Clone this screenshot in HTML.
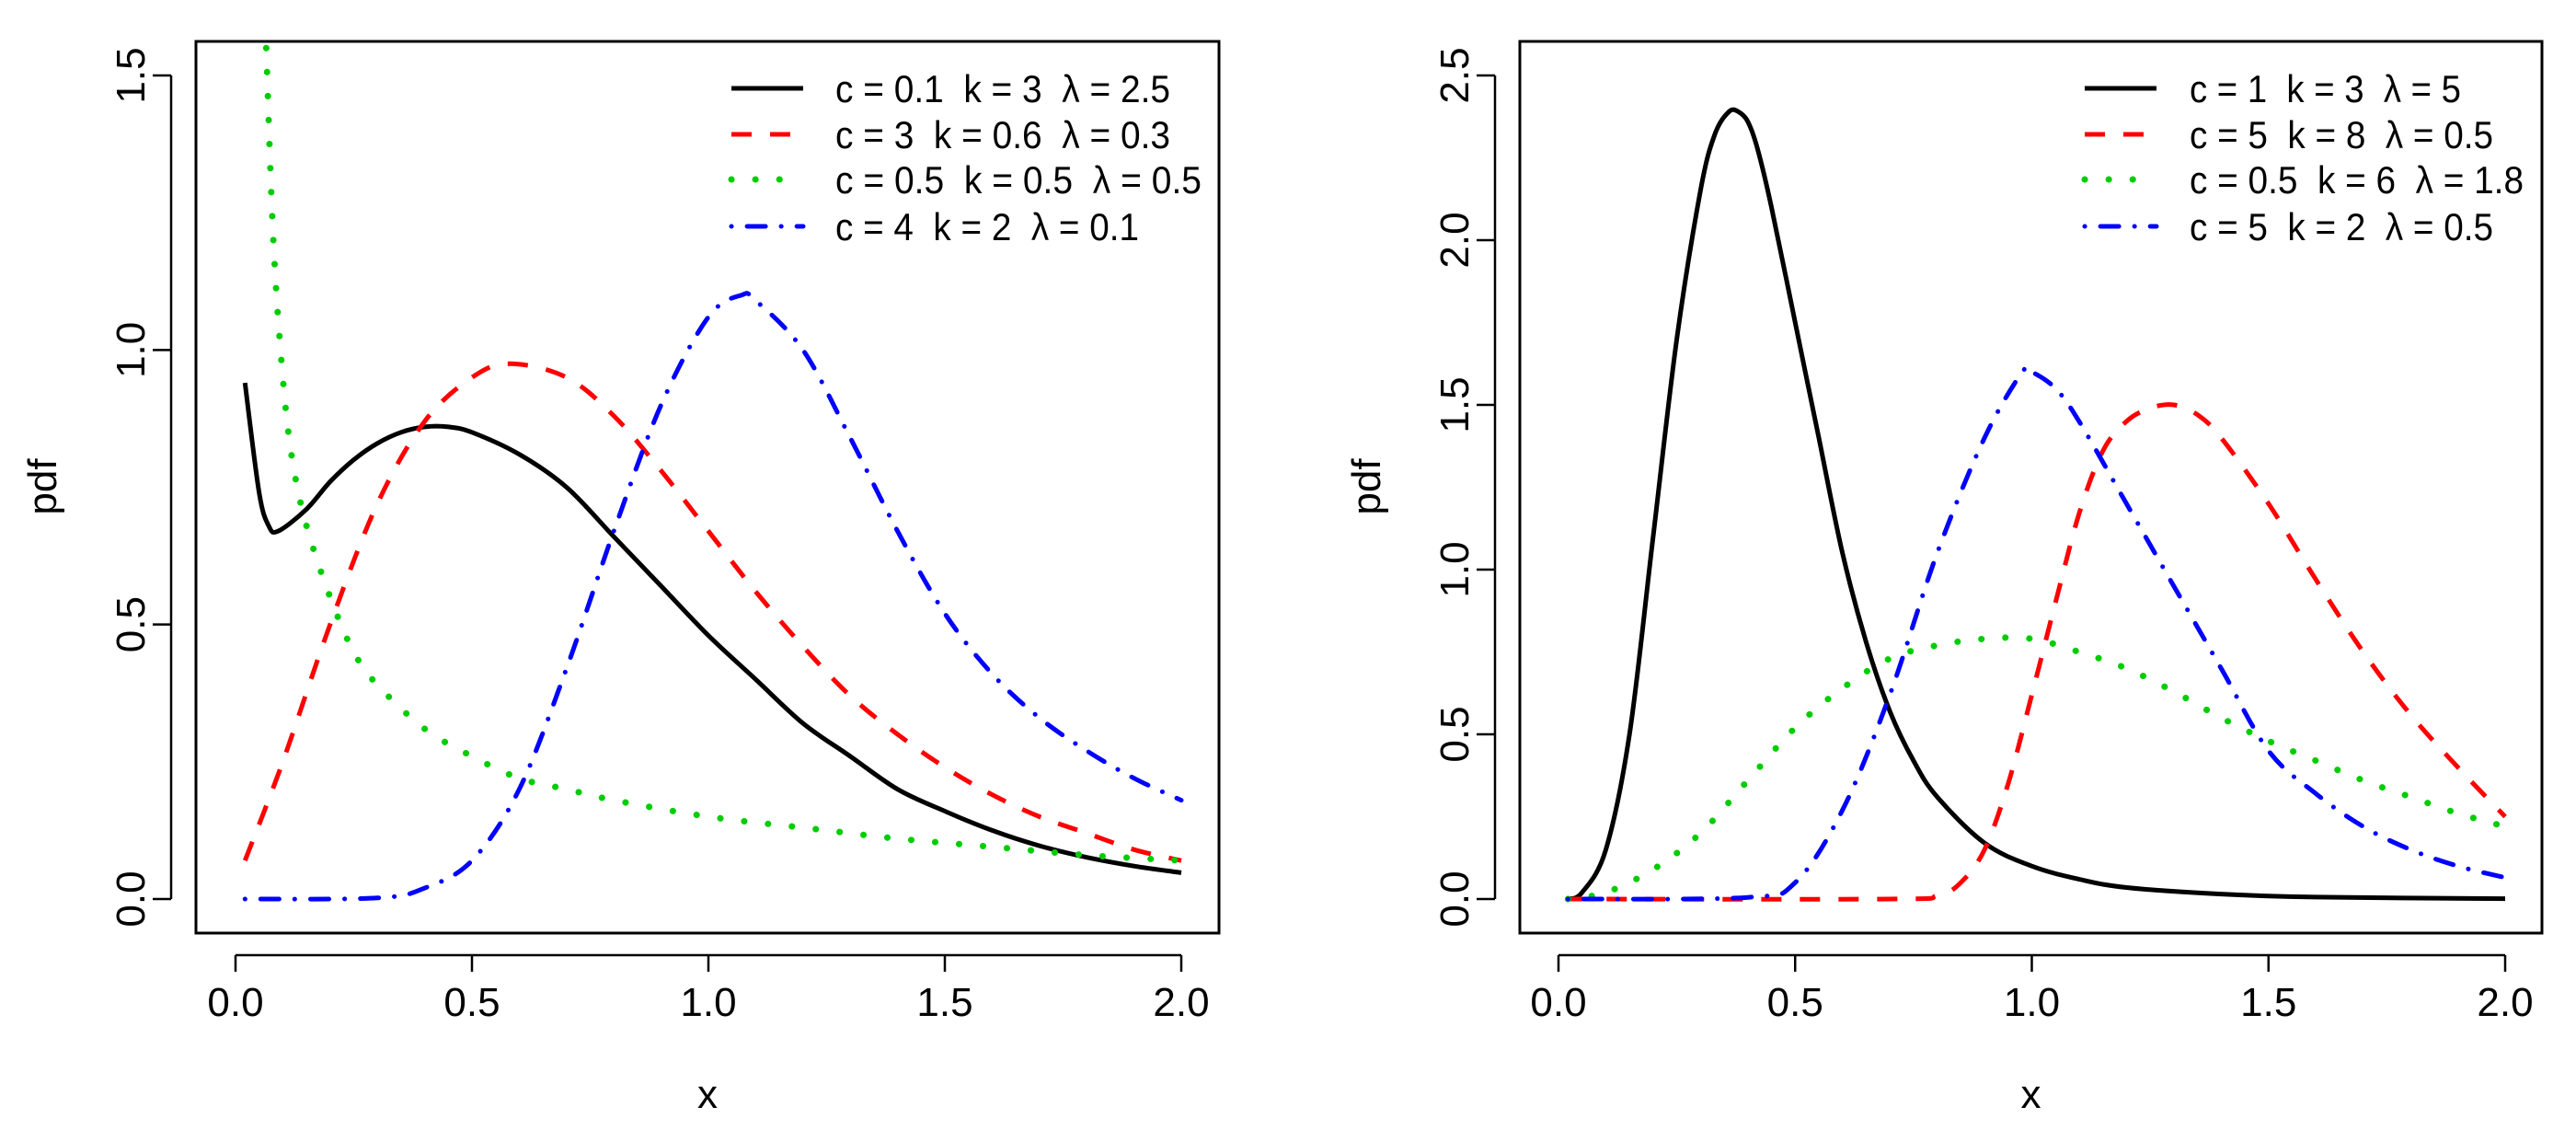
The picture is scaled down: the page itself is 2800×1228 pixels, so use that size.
<!DOCTYPE html>
<html><head><meta charset="utf-8"><style>
html,body{margin:0;padding:0;background:#fff;overflow:hidden}
svg{display:block}
text{font-family:"Liberation Sans",Arial,sans-serif;fill:#000}
</style></head><body>
<svg id="chart" width="2800" height="1228" viewBox="0 0 2800 1228" xmlns="http://www.w3.org/2000/svg">
<defs>
<clipPath id="clipL"><rect x="213" y="45" width="1112" height="969"/></clipPath>
<clipPath id="clipR"><rect x="1652" y="45" width="1111" height="969"/></clipPath>
</defs>
</svg>
<script>
// ---- Left panel data ----
const L_blackX=[0.02,0.05,0.07,0.09,0.15,0.2,0.25,0.3,0.35,0.4,0.45,0.5,0.6,0.7,0.8,0.9,1.0,1.1,1.2,1.3,1.4,1.5,1.6,1.7,1.8,1.9,2.0];
const L_blackY=[0.94,0.74,0.68,0.67,0.71,0.76,0.80,0.83,0.85,0.86,0.86,0.85,0.81,0.75,0.66,0.57,0.48,0.40,0.32,0.26,0.20,0.16,0.125,0.097,0.076,0.06,0.048];
const L_redX=[0.02,0.1,0.2,0.3,0.4,0.5,0.58,0.7,0.8,0.9,1.0,1.1,1.2,1.3,1.4,1.5,1.6,1.7,1.8,1.9,2.0];
const L_redY=[0.07,0.25,0.50,0.72,0.87,0.95,0.975,0.95,0.88,0.78,0.67,0.56,0.46,0.37,0.30,0.24,0.19,0.15,0.12,0.09,0.07];
const L_greenX=[0.065,0.08,0.1,0.12,0.15,0.2,0.25,0.3,0.4,0.5,0.6,0.7,0.8,1.0,1.2,1.4,1.6,1.8,2.0];
const L_greenY=[1.55,1.2,0.95,0.8,0.68,0.55,0.45,0.39,0.31,0.26,0.22,0.2,0.18,0.15,0.13,0.11,0.095,0.08,0.07];
const L_blueX=[0.02,0.3,0.4,0.5,0.6,0.7,0.8,0.9,1.0,1.07,1.1,1.2,1.3,1.4,1.5,1.6,1.7,1.8,1.9,2.0];
const L_blueY=[0,0.002,0.02,0.07,0.2,0.42,0.67,0.9,1.06,1.10,1.09,1.0,0.84,0.67,0.52,0.41,0.33,0.27,0.22,0.18];
const L_yTicks=["0.0","0.5","1.0","1.5"];
const L_legend=["c = 0.1  k = 3  λ = 2.5","c = 3  k = 0.6  λ = 0.3","c = 0.5  k = 0.5  λ = 0.5","c = 4  k = 2  λ = 0.1"];
// ---- Right panel data ----
const R_blackX=[0.02,0.05,0.1,0.15,0.2,0.25,0.3,0.33,0.36,0.38,0.4,0.42,0.45,0.5,0.55,0.6,0.65,0.7,0.75,0.8,0.9,1.0,1.1,1.2,1.4,1.6,2.0];
const R_blackY=[0,0.02,0.15,0.5,1.1,1.7,2.15,2.32,2.39,2.39,2.36,2.28,2.1,1.75,1.4,1.05,0.78,0.57,0.42,0.31,0.17,0.1,0.06,0.035,0.015,0.006,0.001];
const R_redX=[0.02,0.7,0.8,0.85,0.9,0.95,1.0,1.05,1.1,1.15,1.2,1.25,1.3,1.35,1.4,1.5,1.6,1.7,1.8,1.9,2.0];
const R_redY=[0,0,0.01,0.05,0.15,0.35,0.62,0.9,1.17,1.36,1.45,1.49,1.5,1.47,1.4,1.2,0.97,0.75,0.56,0.4,0.25];
const R_greenX=[0.02,0.1,0.2,0.3,0.4,0.5,0.6,0.7,0.8,0.9,1.0,1.1,1.2,1.3,1.4,1.5,1.6,1.7,1.8,1.9,2.0];
const R_greenY=[0,0.02,0.09,0.2,0.36,0.52,0.64,0.73,0.77,0.79,0.79,0.75,0.7,0.63,0.55,0.48,0.42,0.36,0.31,0.26,0.22];
const R_blueX=[0.02,0.4,0.5,0.6,0.7,0.8,0.9,0.98,1.0,1.05,1.1,1.2,1.3,1.4,1.5,1.6,1.7,1.8,1.9,2.0];
const R_blueY=[0,0.005,0.05,0.27,0.62,1.05,1.4,1.6,1.6,1.55,1.45,1.2,0.95,0.7,0.45,0.32,0.22,0.15,0.1,0.065];
const R_yTicks=["0.0","0.5","1.0","1.5","2.0","2.5"];
const R_legend=["c = 1  k = 3  λ = 5","c = 5  k = 8  λ = 0.5","c = 0.5  k = 6  λ = 1.8","c = 5  k = 2  λ = 0.5"];
const xTicks=["0.0","0.5","1.0","1.5","2.0"];

const NS="http://www.w3.org/2000/svg";
const svg=document.getElementById('chart');
function mk(tag,attrs,parent){const e=document.createElementNS(NS,tag);for(const k in attrs)e.setAttribute(k,attrs[k]);(parent||svg).appendChild(e);return e;}
const styles=[
 {stroke:'#000',dash:''},
 {stroke:'#ff0000',dash:'22 20'},
 {stroke:'#00cd00',dash:'0.1 26',cap:'round'},
 {stroke:'#0000ff',dash:'0.1 17 20 17',cap:'round'}
];
function catmull(pts){
  let d='M'+pts[0][0].toFixed(1)+','+pts[0][1].toFixed(1);
  for(let i=0;i<pts.length-1;i++){
    const p0=pts[i-1]||pts[i],p1=pts[i],p2=pts[i+1],p3=pts[i+2]||p2;
    const c1=[p1[0]+(p2[0]-p0[0])/6,p1[1]+(p2[1]-p0[1])/6];
    const c2=[p2[0]-(p3[0]-p1[0])/6,p2[1]-(p3[1]-p1[1])/6];
    d+=' C'+c1[0].toFixed(1)+','+c1[1].toFixed(1)+' '+c2[0].toFixed(1)+','+c2[1].toFixed(1)+' '+p2[0].toFixed(1)+','+p2[1].toFixed(1);
  }
  return d;
}
function panel(P){
  const g=mk('g',{});
  
  
  const sx=v=>P.x0+(P.x2-P.x0)*v/2;
  const sy=v=>P.y0-(P.y0-P.ytop)*v/P.ymaxTick;
  const box=mk('rect',{x:P.bx,y:45,width:P.bw,height:969,fill:'none',stroke:'#000','stroke-width':3},g);
  
  
  const xa=mk('g',{},g);
  
  
  mk('line',{x1:sx(0),x2:sx(2),y1:1038,y2:1038,stroke:'#000','stroke-width':2.5},xa);
  xTicks.forEach(t=>{const v=parseFloat(t);
    mk('line',{x1:sx(v),x2:sx(v),y1:1038,y2:1056,stroke:'#000','stroke-width':2.5},xa);
    const tx=mk('text',{x:sx(v),y:1104,'font-size':44,'text-anchor':'middle'},xa);tx.textContent=t;
    
    
  });
  const xl=mk('text',{x:(P.bx+P.bx+P.bw)/2,y:1204,'font-size':44,'text-anchor':'middle'},g);xl.textContent='x';
  
  
  const ya=mk('g',{},g);
  
  
  const ax=P.bx-27;
  mk('line',{x1:ax,x2:ax,y1:sy(0),y2:sy(parseFloat(P.yTicks[P.yTicks.length-1])),stroke:'#000','stroke-width':2.5},ya);
  P.yTicks.forEach(t=>{const v=parseFloat(t);
    mk('line',{x1:ax,x2:ax-20,y1:sy(v),y2:sy(v),stroke:'#000','stroke-width':2.5},ya);
    const tx=mk('text',{x:0,y:0,'font-size':44,'text-anchor':'middle',transform:`translate(${ax-29},${sy(v)}) rotate(-90)`},ya);tx.textContent=t;
    
    
  });
  const yl=mk('text',{x:0,y:0,'font-size':44,'text-anchor':'middle',transform:`translate(${P.bx-152},529) rotate(-90)`},g);yl.textContent='pdf';
  
  
  const sg=mk('g',{'clip-path':`url(#${P.clip})`},g);
  P.series.forEach((s,i)=>{
    const pts=s[0].map((x,j)=>[sx(x),sy(s[1][j])]);
    const st=styles[i];
    const p=mk('path',{d:catmull(pts),fill:'none',stroke:st.stroke,'stroke-width':i==2?7:5,'stroke-dasharray':st.dash,'stroke-linecap':st.cap||'butt','stroke-linejoin':'round'},sg);
    
    
  });
  const lg=mk('g',{},g);
  
  
  const rows=[96,146,195,246];
  P.legend.forEach((t,i)=>{
    const st=styles[i];
    const e=mk('g',{},lg);
    
    
    mk('line',{x1:P.lx,x2:P.lx+78,y1:rows[i],y2:rows[i],stroke:st.stroke,'stroke-width':i==2?7:5,'stroke-dasharray':st.dash,'stroke-linecap':st.cap||'butt'},e);
    const tx=mk('text',{x:P.tx,y:rows[i]+15,'font-size':42,textLength:P.lw[i],lengthAdjust:'spacingAndGlyphs'},e);tx.textContent=t;
    tx.style.whiteSpace='pre';
  });
}
panel({name:'left-panel',bx:213,bw:1112,x0:256,x2:1284,y0:977,ytop:82,ymaxTick:1.5,yTicks:L_yTicks,clip:'clipL',
  series:[[L_blackX,L_blackY],[L_redX,L_redY],[L_greenX,L_greenY],[L_blueX,L_blueY]],legend:L_legend,lx:795,tx:908,lw:[364,364,398,330]});
panel({name:'right-panel',bx:1652,bw:1111,x0:1694,x2:2723,y0:977,ytop:82,ymaxTick:2.5,yTicks:R_yTicks,clip:'clipR',
  series:[[R_blackX,R_blackY],[R_redX,R_redY],[R_greenX,R_greenY],[R_blueX,R_blueY]],legend:R_legend,lx:2266,tx:2380,lw:[295,330,363,330]});
</script>
</body></html>
